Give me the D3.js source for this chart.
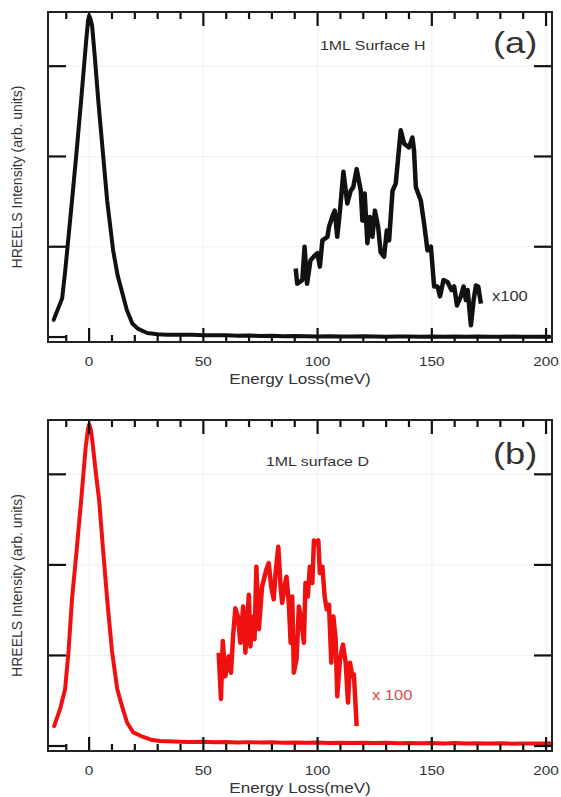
<!DOCTYPE html>
<html>
<head>
<meta charset="utf-8">
<script src="https://cdn.jsdelivr.net/npm/d3@7"></script>
<style>
  body { margin: 0; background: #fff; }
  svg text { font-family: "Liberation Sans", Arial, sans-serif; fill: #333; }
</style>
</head>
<body>
<div id="chart"></div>
<script>
// HREELS spectra, 1ML surface H (a) and D (b)

const xTicks = [0, 50, 100, 150, 200];
const yTicks = [0, 1, 2, 3];

// elastic peak + baseline, panel (a)  [energy meV, intensity]
const peakA = [
  [-15.5, 0.19], [-14.9, 0.23], [-13.5, 0.32], [-11.8, 0.43], [-10.6, 0.7], [-9.6, 0.96],
  [-7.5, 1.51], [-5.5, 2.05], [-3.5, 2.62], [-1.3, 3.28], [-0.5, 3.5], [0, 3.56],
  [0.6, 3.52], [1.3, 3.45], [2.5, 3.1], [4, 2.62], [6, 2.05], [7.9, 1.51],
  [10.5, 0.96], [12.5, 0.68], [14.5, 0.49], [16.5, 0.3], [18.9, 0.15], [21.5, 0.09],
  [25.4, 0.045], [30, 0.032], [34, 0.026], [40, 0.024], [45, 0.026], [50, 0.02],
  [55, 0.019], [60, 0.021], [65, 0.015], [70, 0.017], [75, 0.012], [80, 0.014],
  [85, 0.01], [90, 0.012], [95, 0.008], [100, 0.006], [105, 0.01], [110, 0.007],
  [115, 0.005], [120, 0.008], [125, 0.006], [130, 0.004], [135, 0.007], [140, 0.005],
  [145, 0.003], [150, 0.006], [155, 0.004], [160, 0.005], [165, 0.003], [170, 0.005],
  [175, 0.004], [180, 0.002], [185, 0.005], [190, 0.003], [195, 0.004], [200, 0.003], [201.5, 0.004]
];

// loss region x100, panel (a)
const lossA = [
  [90.4, 0.76], [91.1, 0.59], [93.3, 0.63], [94.3, 1.0], [95.4, 0.59], [96.9, 0.85],
  [98.3, 0.89], [99.9, 0.93], [101.0, 0.78], [102.1, 1.07], [104.3, 1.11], [105.0, 1.22],
  [106.4, 1.33], [107.5, 1.4], [108.6, 1.11], [109.8, 1.4], [111.3, 1.83], [113.0, 1.48],
  [114.5, 1.62], [115.6, 1.66], [117.1, 1.86], [118.9, 1.62], [119.6, 1.29], [120.6, 1.59],
  [121.8, 1.04], [122.9, 1.33], [124.0, 1.11], [125.1, 1.4], [126.5, 1.22], [127.6, 0.94],
  [129.1, 0.89], [130.3, 1.18], [131.3, 1.07], [132.8, 1.62], [134.2, 1.7], [136.4, 2.29],
  [137.9, 2.14], [140.0, 2.1], [141.5, 2.21], [142.2, 2.07], [143.0, 1.66], [145.2, 1.51],
  [146.6, 1.26], [148.1, 0.96], [149.6, 1.0], [151.0, 0.56], [152.5, 0.56], [153.6, 0.45],
  [155.1, 0.63], [156.9, 0.61], [158.6, 0.52], [159.8, 0.56], [161.0, 0.35], [162.7, 0.45],
  [163.9, 0.56], [164.9, 0.41], [165.7, 0.52], [167.1, 0.13], [168.3, 0.41], [169.3, 0.57],
  [170.3, 0.56], [171.5, 0.37]
];

// elastic peak + baseline, panel (b)
const peakB = [
  [-15.3, 0.22], [-14.9, 0.25], [-12.7, 0.41], [-10.5, 0.63], [-9, 1.05], [-7.5, 1.62],
  [-5.5, 2.15], [-3.5, 2.71], [-1.5, 3.3], [-0.5, 3.5], [0, 3.55], [0.7, 3.5],
  [1.5, 3.35], [3, 3.0], [4.4, 2.71], [6, 2.2], [7.9, 1.62], [10, 1.05],
  [12.3, 0.63], [14.4, 0.44], [16.6, 0.26], [19.3, 0.15], [23.7, 0.1], [27, 0.07],
  [31, 0.055], [37, 0.05], [43, 0.045], [50, 0.047], [55, 0.042], [60, 0.045],
  [65, 0.04], [70, 0.043], [75, 0.038], [80, 0.041], [85, 0.036], [90, 0.04],
  [95, 0.035], [100, 0.038], [105, 0.034], [110, 0.037], [115, 0.033], [120, 0.036],
  [125, 0.032], [130, 0.035], [135, 0.031], [140, 0.034], [145, 0.03], [150, 0.033],
  [155, 0.029], [160, 0.032], [165, 0.028], [170, 0.031], [175, 0.027], [180, 0.03],
  [185, 0.026], [190, 0.029], [195, 0.027], [200, 0.028], [201.5, 0.03]
];

// loss region x100, panel (b)
const lossB = [
  [56.7, 1.03], [57.7, 0.52], [58.5, 1.16], [59.6, 0.77], [61.1, 0.99], [62.1, 0.81],
  [63.0, 1.21], [64.0, 1.52], [65.1, 1.43], [66.2, 1.14], [67.4, 1.54], [68.4, 1.03],
  [69.9, 1.67], [70.6, 1.1], [71.8, 1.43], [72.4, 1.18], [73.2, 1.98], [74.3, 1.29],
  [75.7, 1.76], [76.8, 1.87], [77.6, 1.95], [78.6, 2.02], [79.7, 1.76], [80.8, 1.62],
  [81.6, 1.91], [82.8, 2.2], [83.8, 1.76], [84.5, 1.58], [85.5, 1.76], [86.4, 1.87],
  [87.4, 1.58], [88.2, 1.14], [88.9, 1.65], [89.6, 0.81], [90.8, 0.96], [91.8, 1.54],
  [92.8, 1.4], [94.0, 1.14], [94.7, 1.8], [95.7, 1.65], [96.6, 1.98], [97.7, 1.8],
  [98.4, 2.27], [99.6, 2.24], [100.3, 2.27], [101.0, 1.91], [102.1, 1.98], [103.1, 1.65],
  [104.0, 1.51], [105.0, 1.56], [106.0, 0.92], [106.9, 1.43], [107.9, 1.18], [108.6, 0.55],
  [109.8, 0.96], [111.1, 1.12], [112.3, 0.92], [113.3, 0.48], [114.2, 0.92], [115.2, 0.77],
  [115.9, 0.79], [117.1, 0.22]
];

const panels = [
  { top: 12, bottom: 342, peak: peakA, loss: lossA, color: '#111',
    title: '1ML Surface H', titleX: 320, titleY: 50, tag: '(a)', tagY: 53,
    mult: 'x100', multX: 492, multY: 301, multColor: '#333' },
  { top: 420, bottom: 751, peak: peakB, loss: lossB, color: '#f01010',
    title: '1ML surface D', titleX: 266, titleY: 466, tag: '(b)', tagY: 464,
    mult: 'x 100', multX: 372, multY: 700, multColor: '#e0474c' }
];

const W = 561, H = 797;
const left = 48, right = 552;
const svg = d3.select('#chart').append('svg').attr('width', W).attr('height', H);

// text stretched a bit wider, as in the scanned figure
function label(g, x, y, txt, size, anchor, sx) {
  return g.append('text')
    .attr('transform', `translate(${x},${y}) scale(${sx || 1.18},1)`)
    .attr('text-anchor', anchor || 'middle')
    .style('font-size', size + 'px')
    .text(txt);
}

function drawPanel(p) {
  const g = svg.append('g');
  const x = d3.scaleLinear().domain([-18, 202.6]).range([left, right]);
  const y = d3.scaleLinear().domain([-0.055, 3.6]).range([p.bottom, p.top]);

  // faint grid
  g.selectAll('.gx').data(xTicks).enter().append('line')
    .attr('x1', d => x(d)).attr('x2', d => x(d))
    .attr('y1', p.top).attr('y2', p.bottom)
    .attr('stroke', '#f0f0f0').attr('stroke-width', 1);
  g.selectAll('.gy').data(yTicks.slice(1)).enter().append('line')
    .attr('x1', left).attr('x2', right)
    .attr('y1', d => y(d)).attr('y2', d => y(d))
    .attr('stroke', '#f0f0f0').attr('stroke-width', 1);

  // spectra
  const line = d3.line().x(d => x(d[0])).y(d => y(d[1]));
  g.append('path').datum(p.peak).attr('d', line)
    .attr('fill', 'none').attr('stroke', p.color)
    .attr('stroke-width', 4).attr('stroke-linejoin', 'round').attr('stroke-linecap', 'round');
  g.append('path').datum(p.loss).attr('d', line)
    .attr('fill', 'none').attr('stroke', p.color)
    .attr('stroke-width', 4.5).attr('stroke-linejoin', 'round').attr('stroke-linecap', 'butt');

  // inward ticks, minor every 10 meV
  const allX = d3.range(-10, 201, 10);
  const ticks = g.append('g').attr('stroke', '#111').attr('stroke-width', 2.2);
  [p.bottom, p.top].forEach((edge, i) => {
    const dir = i === 0 ? -1 : 1;
    ticks.selectAll(null).data(allX).enter().append('line')
      .attr('x1', d => x(d)).attr('x2', d => x(d))
      .attr('y1', edge)
      .attr('y2', d => edge + dir * (d % 50 === 0 ? 14 : 7));
  });
  [left, right].forEach((edge, i) => {
    const dir = i === 0 ? 1 : -1;
    ticks.selectAll(null).data(yTicks).enter().append('line')
      .attr('x1', edge).attr('x2', edge + dir * 18)
      .attr('y1', d => y(d)).attr('y2', d => y(d));
  });

  // frame
  g.append('rect')
    .attr('x', left).attr('y', p.top)
    .attr('width', right - left).attr('height', p.bottom - p.top)
    .attr('fill', 'none').attr('stroke', '#222').attr('stroke-width', 2);

  // tick labels
  xTicks.forEach(d => label(g, x(d), p.bottom + 24, d, 13));
  label(g, (left + right) / 2, p.bottom + 42, 'Energy Loss(meV)', 14.5);
  g.append('text')
    .attr('transform', `translate(22,${(p.top + p.bottom) / 2}) rotate(-90)`)
    .attr('text-anchor', 'middle')
    .style('font-size', '14px')
    .text('HREELS Intensity (arb. units)');

  // annotations
  label(g, p.titleX, p.titleY, p.title, 13.5, 'start');
  label(g, 493, p.tagY, p.tag, 29, 'start', 1.25);
  label(g, p.multX, p.multY, p.mult, 14, 'start').style('fill', p.multColor);
}

panels.forEach(drawPanel);
</script>
</body>
</html>
